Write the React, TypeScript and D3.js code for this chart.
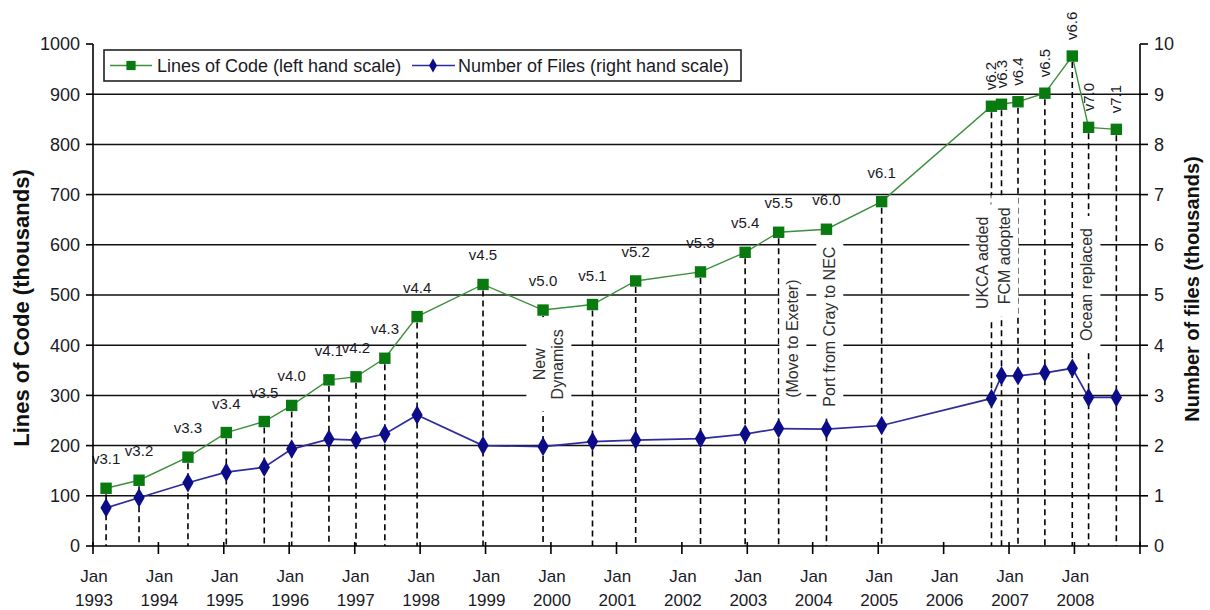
import React, { useEffect, useRef } from "react";
import * as d3 from "d3";

// ---------- data ----------
const versions = [
  "v3.1", "v3.2", "v3.3", "v3.4", "v3.5", "v4.0", "v4.1", "v4.2", "v4.3", "v4.4",
  "v4.5", "v5.0", "v5.1", "v5.2", "v5.3", "v5.4", "v5.5", "v6.0", "v6.1", "v6.2",
  "v6.3", "v6.4", "v6.5", "v6.6", "v7.0", "v7.1",
];
const releaseDates = [
  "1993-03-15", "1993-09-15", "1994-06-15", "1995-01-15", "1995-08-15", "1996-01-15",
  "1996-08-10", "1997-01-08", "1997-06-18", "1997-12-15", "1998-12-18", "1999-11-18",
  "2000-08-20", "2001-04-18", "2002-04-15", "2002-12-20", "2003-06-25", "2004-03-18",
  "2005-01-20", "2006-09-25", "2006-11-20", "2007-02-20", "2007-07-20", "2007-12-20",
  "2008-03-20", "2008-08-22",
];
const linesOfCode = [
  115, 131, 177, 226, 248, 280, 331, 337, 374, 457, 521, 470, 481, 528, 546, 585, 625,
  631, 686, 876, 880, 885, 902, 976, 834, 830,
];
const numberOfFiles = [
  0.76, 0.96, 1.26, 1.47, 1.57, 1.93, 2.13, 2.11, 2.23, 2.61, 2.0, 1.98, 2.08, 2.11,
  2.14, 2.23, 2.34, 2.33, 2.4, 2.94, 3.39, 3.39, 3.45, 3.54, 2.96, 2.96,
];
const verticalLabelVersions = ["v6.2", "v6.3", "v6.4", "v6.5", "v6.6", "v7.0", "v7.1"];

const annotationTexts = [
  ["New", "Dynamics"],
  ["(Move to Exeter)"],
  ["Port from Cray to NEC"],
  ["UKCA added"],
  ["FCM adopted"],
  ["Ocean replaced"],
];
const annotationDates = ["1999-12-20", "2003-09-12", "2004-04-05", "2006-08-08", "2006-12-08", "2008-03-10"];
const annotationLevels = [362, 413, 437, 564, 578, 521];

const leftTicks = [0, 100, 200, 300, 400, 500, 600, 700, 800, 900, 1000];
const rightTicks = [0, 1, 2, 3, 4, 5, 6, 7, 8, 9, 10];
const xTickYears = [1993, 1994, 1995, 1996, 1997, 1998, 1999, 2000, 2001, 2002, 2003, 2004, 2005, 2006, 2007, 2008];

const legendLabels = ["Lines of Code (left hand scale)", "Number of Files (right hand scale)"];
const axisTitles = ["Lines of Code (thousands)", "Number of files (thousands)"];

// ---------- styling ----------
const W = 1210;
const H = 610;
const FONT = "Arial, 'Liberation Sans', sans-serif";
const GREEN_MARK = "#087a10";
const GREEN_LINE = "#3d8f3d";
const BLUE_MARK = "#0c0c88";
const BLUE_LINE = "#2d2d9c";
const TEXT = "#1a1a26";

export default function App() {
  const ref = useRef<SVGSVGElement | null>(null);

  useEffect(() => {
    const svg = d3.select(ref.current);
    svg.selectAll("*").remove();

    const parse = d3.timeParse("%Y-%m-%d");
    const x = d3
      .scaleTime()
      .domain([new Date(1993, 0, 1), new Date(2009, 0, 1)])
      .range([93, 1140]);
    const yL = d3.scaleLinear().domain([0, 1000]).range([546, 44]);
    const yR = d3.scaleLinear().domain([0, 10]).range([546, 44]);

    const data = versions.map((v, i) => ({
      v,
      d: parse(releaseDates[i]) as Date,
      loc: linesOfCode[i],
      files: numberOfFiles[i],
    }));

    svg.append("rect").attr("width", W).attr("height", H).attr("fill", "#fff");

    // gridlines
    svg
      .append("g")
      .selectAll("line")
      .data(leftTicks.filter((t) => t > 0 && t < 1000))
      .join("line")
      .attr("x1", x.range()[0])
      .attr("x2", x.range()[1])
      .attr("y1", (t) => yL(t))
      .attr("y2", (t) => yL(t))
      .attr("stroke", "#111")
      .attr("stroke-width", 1.5);

    // dashed drop lines
    svg
      .append("g")
      .selectAll("line")
      .data(data)
      .join("line")
      .attr("x1", (p) => x(p.d))
      .attr("x2", (p) => x(p.d))
      .attr("y1", (p) => yL(p.loc) + 6)
      .attr("y2", yL(0))
      .attr("stroke", "#000")
      .attr("stroke-width", 1.6)
      .attr("stroke-dasharray", "6,4");

    // annotations with white boxes
    const ann = svg
      .append("g")
      .selectAll("g")
      .data(annotationTexts.map((lines, i) => ({ lines, d: parse(annotationDates[i]) as Date, lvl: annotationLevels[i] })))
      .join("g")
      .attr("transform", (a) => `translate(${x(a.d)},${yL(a.lvl)}) rotate(-90)`);
    ann.each(function (a) {
      const g = d3.select(this);
      const rect = g.append("rect").attr("fill", "#fff");
      const t = g
        .append("text")
        .attr("text-anchor", "middle")
        .attr("font-family", FONT)
        .attr("font-size", 16)
        .attr("fill", "#2e2e2e");
      const n = a.lines.length;
      a.lines.forEach((ln, i) => {
        t.append("tspan")
          .attr("x", 0)
          .attr("y", (i - (n - 1) / 2) * 18)
          .attr("dy", "0.35em")
          .text(ln);
      });
      const bb = (t.node() as SVGTextElement).getBBox();
      rect
        .attr("x", bb.x - 12)
        .attr("y", bb.y - 5)
        .attr("width", bb.width + 24)
        .attr("height", bb.height + 10);
    });

    // series lines
    svg
      .append("path")
      .datum(data)
      .attr("fill", "none")
      .attr("stroke", GREEN_LINE)
      .attr("stroke-width", 1.4)
      .attr("d", d3.line<any>().x((p) => x(p.d)).y((p) => yL(p.loc)));
    svg
      .append("path")
      .datum(data)
      .attr("fill", "none")
      .attr("stroke", BLUE_LINE)
      .attr("stroke-width", 1.7)
      .attr("d", d3.line<any>().x((p) => x(p.d)).y((p) => yR(p.files)));

    const sq = d3.symbol().type(d3.symbolSquare).size(130);
    const dia = d3.symbol().type(d3.symbolDiamond).size(110);
    svg
      .append("g")
      .selectAll("path")
      .data(data)
      .join("path")
      .attr("transform", (p) => `translate(${x(p.d)},${yL(p.loc)})`)
      .attr("d", sq as any)
      .attr("fill", GREEN_MARK);
    svg
      .append("g")
      .selectAll("path")
      .data(data)
      .join("path")
      .attr("transform", (p) => `translate(${x(p.d)},${yR(p.files)})`)
      .attr("d", dia as any)
      .attr("fill", BLUE_MARK);

    // version labels
    const lab = svg.append("g").attr("font-family", FONT).attr("font-size", 15).attr("fill", TEXT);
    lab
      .selectAll("text")
      .data(data)
      .join("text")
      .attr("transform", (p) =>
        verticalLabelVersions.includes(p.v)
          ? `translate(${x(p.d) + 5},${yL(p.loc) - 16}) rotate(-90)`
          : `translate(${x(p.d)},${yL(p.loc) - 24})`
      )
      .attr("text-anchor", (p) => (verticalLabelVersions.includes(p.v) ? "start" : "middle"))
      .text((p) => p.v);

    // axes
    const axes = svg.append("g").attr("stroke", "#000").attr("stroke-width", 1.6);
    axes.append("line").attr("x1", 93).attr("x2", 93).attr("y1", yL(1000)).attr("y2", yL(0));
    axes.append("line").attr("x1", 1140).attr("x2", 1140).attr("y1", yR(10)).attr("y2", yR(0));
    axes.append("line").attr("x1", 93).attr("x2", 1140).attr("y1", yL(0)).attr("y2", yL(0));
    axes
      .selectAll("line.lt")
      .data(leftTicks)
      .join("line")
      .attr("class", "lt")
      .attr("x1", 86)
      .attr("x2", 93)
      .attr("y1", (t) => yL(t))
      .attr("y2", (t) => yL(t));
    axes
      .selectAll("line.rt")
      .data(rightTicks)
      .join("line")
      .attr("class", "rt")
      .attr("x1", 1140)
      .attr("x2", 1148)
      .attr("y1", (t) => yR(t))
      .attr("y2", (t) => yR(t));
    axes
      .selectAll("line.xt")
      .data(xTickYears.concat([2009]))
      .join("line")
      .attr("class", "xt")
      .attr("x1", (yr) => x(new Date(yr, 0, 1)))
      .attr("x2", (yr) => x(new Date(yr, 0, 1)))
      .attr("y1", yL(0) - 4)
      .attr("y2", yL(0) + 8);

    const tl = svg.append("g").attr("font-family", FONT).attr("font-size", 18).attr("fill", TEXT);
    tl.selectAll("text.l")
      .data(leftTicks)
      .join("text")
      .attr("class", "l")
      .attr("x", 80)
      .attr("y", (t) => yL(t))
      .attr("dy", "0.35em")
      .attr("text-anchor", "end")
      .text((t) => String(t));
    tl.selectAll("text.r")
      .data(rightTicks)
      .join("text")
      .attr("class", "r")
      .attr("x", 1154)
      .attr("y", (t) => yR(t))
      .attr("dy", "0.35em")
      .attr("text-anchor", "start")
      .text((t) => String(t));
    const xl = tl
      .selectAll("g.x")
      .data(xTickYears)
      .join("g")
      .attr("class", "x")
      .attr("transform", (yr) => `translate(${x(new Date(yr, 0, 1)) + 1},0)`);
    xl.append("text").attr("y", 582).attr("text-anchor", "middle").attr("font-size", 17).text("Jan");
    xl.append("text").attr("y", 606).attr("text-anchor", "middle").attr("font-size", 17).text((yr) => String(yr));

    // axis titles
    svg
      .append("text")
      .attr("transform", `translate(29,308) rotate(-90)`)
      .attr("text-anchor", "middle")
      .attr("font-family", FONT)
      .attr("font-weight", "bold")
      .attr("font-size", 22)
      .attr("fill", "#111")
      .text(axisTitles[0]);
    svg
      .append("text")
      .attr("transform", `translate(1199,289) rotate(-90)`)
      .attr("text-anchor", "middle")
      .attr("font-family", FONT)
      .attr("font-weight", "bold")
      .attr("font-size", 20)
      .attr("fill", "#111")
      .text(axisTitles[1]);

    // legend
    const lg = svg.append("g");
    lg.append("rect")
      .attr("x", 104)
      .attr("y", 50)
      .attr("width", 637)
      .attr("height", 31)
      .attr("fill", "#fff")
      .attr("stroke", "#222")
      .attr("stroke-width", 1.6);
    lg.append("line").attr("x1", 110).attr("x2", 152).attr("y1", 65.5).attr("y2", 65.5).attr("stroke", GREEN_LINE).attr("stroke-width", 1.6);
    lg.append("path").attr("transform", "translate(131,65.5)").attr("d", d3.symbol().type(d3.symbolSquare).size(85) as any).attr("fill", GREEN_MARK);
    lg.append("text").attr("x", 157).attr("y", 65.5).attr("dy", "0.35em").attr("font-family", FONT).attr("font-size", 18).attr("fill", TEXT).text(legendLabels[0]);
    lg.append("line").attr("x1", 412).attr("x2", 455).attr("y1", 65.5).attr("y2", 65.5).attr("stroke", BLUE_LINE).attr("stroke-width", 1.6);
    lg.append("path").attr("transform", "translate(433,65.5)").attr("d", d3.symbol().type(d3.symbolDiamond).size(55) as any).attr("fill", BLUE_MARK);
    lg.append("text").attr("x", 458).attr("y", 65.5).attr("dy", "0.35em").attr("font-family", FONT).attr("font-size", 18).attr("fill", TEXT).text(legendLabels[1]);
  }, []);

  return (
    <svg
      ref={ref}
      width={W}
      height={H}
      style={{ position: "absolute", left: 0, top: 0, display: "block" }}
    />
  );
}
